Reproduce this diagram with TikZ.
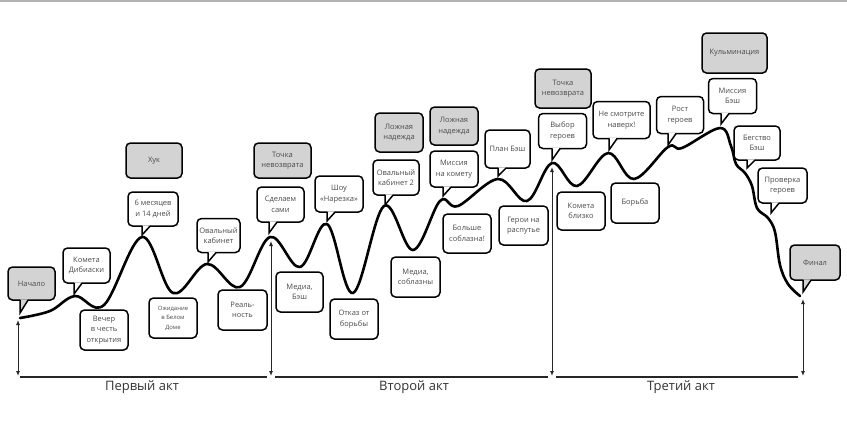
\documentclass[tikz,border=0pt]{standalone}
\usepackage{fontspec}
\setmainfont{Open Sans}
\usetikzlibrary{calc,arrows.meta}
\definecolor{boxgray}{HTML}{D3D3D3}
\definecolor{txtgray}{HTML}{4A4A4A}
\newcommand\bubtail[3][white]{%
  \fill[#1] ($(#3 |- #2.south)+(0,-1.3)$) -- (#3) -- ($(#3 |- #2.south)+(8,-1.3)$) -- cycle;
  \draw[bline, line cap=round] ($(#3 |- #2.south)+(0,-0.6)$) -- (#3) -- ($(#3 |- #2.south)+(8,-0.6)$);}
\begin{document}
\begin{tikzpicture}[x=1pt,y=-1pt,
  bline/.style={draw=black, line width=1.5pt},
  box/.style={draw=black, line width=1.5pt, rounded corners=4.5pt, fill=white, align=center,
    inner sep=1pt, text=txtgray, font=\fontsize{7.5}{10.5}\selectfont},
  gbox/.style={box, fill=boxgray},
  curve/.style={draw=black, line width=2.6pt, line cap=round, line join=round},
  vline/.style={draw=black!85, line width=1pt, {Latex[length=5pt,width=4pt]}-{Latex[length=5pt,width=4pt]}},
  hline/.style={draw=black!85, line width=1.1pt},
  actlabel/.style={text=black!80, font=\fontsize{13}{15}\selectfont, inner sep=0pt}]
\useasboundingbox (0,0) rectangle (847,429);
\fill[white] (0,0) rectangle (847,429);
\draw[gray!60, line width=1.6pt] (0,1) -- (847,1);

% plot curve
\draw[curve] plot[smooth, tension=0.6] coordinates {
 (20,318) (50,311) (75,296) (104,305) (142,237) (173,293) (207,264) (240,287)
 (270,237) (300,267) (327,224) (353,293) (384,206) (413,250) (440,201) (458,206)
 (498,179) (527,201) (552,163) (577,186) (608,153) (634,179) (668,147) (682,148)
 (720,128) (731,146) (736,164) (745,173) (752,186) (757,208) (768,218) (775,232)
 (780,265) (788,284) (800,296)};

% curve anchor points
\coordinate (c0) at (18,320);
\coordinate (c1) at (271,241);
\coordinate (c2) at (552,167);
\coordinate (c3) at (803,299);
\coordinate (b0) at (18,376);
\coordinate (b1) at (271,376);
\coordinate (b2) at (552,376);
\coordinate (b3) at (803,376);

% act axis
\draw[vline] (b0) -- (c0);
\draw[vline] (b1) -- (c1);
\draw[vline] (b2) -- (c2);
\draw[vline] (b3) -- (c3);
\coordinate (h1a) at (20,377); \coordinate (h1b) at (267,377);
\coordinate (h2a) at (275,377); \coordinate (h2b) at (548,377);
\coordinate (h3a) at (556,377); \coordinate (h3b) at (798,377);
\draw[hline] (h1a) -- (h1b);
\draw[hline] (h2a) -- (h2b);
\draw[hline] (h3a) -- (h3b);
\node[actlabel] (act1) at (142,387) {Первый акт};
\node[actlabel] (act2) at (414,387) {Второй акт};
\node[actlabel] (act3) at (681,387) {Третий акт};

% tail tips
\coordinate (tN) at (20,313);
\coordinate (tF) at (803,292);
\coordinate (ta) at (74,294);
\coordinate (tb) at (142,235);
\coordinate (tc) at (208,262);
\coordinate (td) at (269,233);
\coordinate (te) at (327,221);
\coordinate (tf) at (385,205);
\coordinate (tg) at (443,196);
\coordinate (th) at (498,176);
\coordinate (ti) at (552,160);
\coordinate (tj) at (609,150);
\coordinate (tk) at (668,145);
\coordinate (tl) at (721,124);
\coordinate (tm) at (747,168);
\coordinate (tn) at (771,213);

% gray labels
\node[gbox, minimum width=47pt, minimum height=33pt] (nach) at (31.5,283.5) {Начало};
\bubtail[boxgray]{nach}{tN}
\node[gbox, minimum width=56pt, minimum height=35pt] (huk) at (154,160.5) {Хук};
\node[gbox, minimum width=57pt, minimum height=35pt] (tochka1) at (282.5,160.5) {Точка\\невозврата};
\node[gbox, minimum width=48pt, minimum height=39pt] (lozh1) at (399,132.5) {Ложная\\надежда};
\node[gbox, minimum width=48pt, minimum height=38pt] (lozh2) at (454,126) {Ложная\\надежда};
\node[gbox, minimum width=56pt, minimum height=39pt] (tochka2) at (563,88.5) {Точка\\невозврата};
\node[gbox, minimum width=65pt, minimum height=40pt] (kulm) at (734.5,53) {Кульминация};
\node[gbox, minimum width=50pt, minimum height=35pt] (final) at (815,262.5) {Финал};
\bubtail[boxgray]{final}{tF}

% white bubbles above the curve
\node[box, minimum width=47pt, minimum height=35pt] (a) at (86.5,265.5) {Комета\\Дибиаски};
\bubtail{a}{ta}
\node[box, minimum width=50pt, minimum height=34pt] (b) at (153,209) {6 месяцев\\и 14 дней};
\bubtail{b}{tb}
\node[box, minimum width=43pt, minimum height=34pt] (c) at (218.5,235.5) {Овальный\\кабинет};
\bubtail{c}{tc}
\node[box, minimum width=47pt, minimum height=35pt] (d) at (280.5,204.5) {Сделаем\\сами};
\bubtail{d}{td}
\node[box, minimum width=48pt, minimum height=36pt] (e) at (339,194) {Шоу\\«Нарезка»};
\bubtail{e}{te}
\node[box, minimum width=46pt, minimum height=35pt] (f) at (396,177.5) {Овальный\\кабинет 2};
\bubtail{f}{tf}
\node[box, minimum width=48pt, minimum height=36pt] (g) at (454,169) {Миссия\\на комету};
\bubtail{g}{tg}
\node[box, minimum width=45pt, minimum height=38pt] (h) at (507.5,149) {План Бэш};
\bubtail{h}{th}
\node[box, minimum width=48pt, minimum height=35pt] (i) at (562.5,131) {Выбор\\героев};
\bubtail{i}{ti}
\node[box, minimum width=57pt, minimum height=37pt] (j) at (621.5,120) {Не смотрите\\наверх!};
\bubtail{j}{tj}
\node[box, minimum width=47pt, minimum height=37pt] (k) at (680,115) {Рост\\героев};
\bubtail{k}{tk}
\node[box, minimum width=48pt, minimum height=35pt] (l) at (732.5,96) {Миссия\\Бэш};
\bubtail{l}{tl}
\node[box, minimum width=46pt, minimum height=34pt] (m) at (757,143) {Бегство\\Бэш};
\bubtail{m}{tm}
\node[box, minimum width=49pt, minimum height=35pt] (n) at (782.5,185.5) {Проверка\\героев};
\bubtail{n}{tn}

% boxes below the curve
\node[box, minimum width=48pt, minimum height=40pt] (p) at (104,330) {Вечер\\в честь\\открытия};
\node[box, minimum width=48pt, minimum height=40pt, font=\fontsize{5.9}{9.5}\selectfont] (q) at (173,318) {Ожидание\\в Белом\\Доме};
\node[box, minimum width=49pt, minimum height=40pt] (r) at (242.5,310) {Реаль-\\ность};
\node[box, minimum width=47pt, minimum height=40pt] (s) at (299.5,292) {Медиа,\\Бэш};
\node[box, minimum width=48pt, minimum height=40pt] (t) at (354,319) {Отказ от\\борьбы};
\node[box, minimum width=49pt, minimum height=40pt] (u) at (415.5,277) {Медиа,\\соблазны};
\node[box, minimum width=48pt, minimum height=39pt] (v) at (467,233.5) {Больше\\соблазна!};
\node[box, minimum width=49pt, minimum height=39pt] (w) at (523.5,225.5) {Герои на\\распутье};
\node[box, minimum width=48pt, minimum height=38pt] (x) at (581,211) {Комета\\близко};
\node[box, minimum width=48pt, minimum height=40pt] (y) at (635,203) {Борьба};
\end{tikzpicture}
\end{document}
